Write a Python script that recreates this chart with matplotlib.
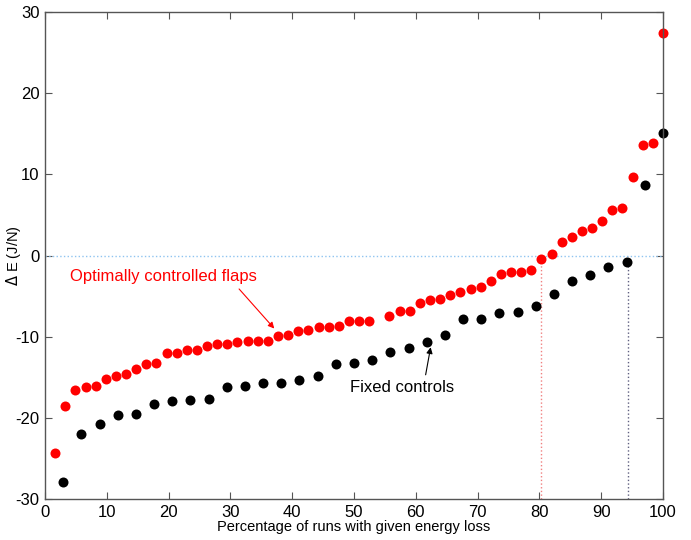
import matplotlib
matplotlib.use("Agg")
import matplotlib.pyplot as plt
import numpy as np

plt.rcParams["font.family"] = ["Liberation Sans", "DejaVu Sans"]
plt.rcParams["axes.unicode_minus"] = False

# red: optimally controlled flaps (61 runs, run 33 not shown)
n_red = 61
red_idx = [i for i in range(1, n_red + 1) if i != 33]
red_dE = [-24.3, -18.6, -16.6, -16.2, -16.1, -15.2, -14.9, -14.55, -13.96, -13.4,
          -13.3, -12.0, -12.0, -11.7, -11.66, -11.2, -10.85, -10.85, -10.6, -10.5,
          -10.55, -10.55, -9.9, -9.8, -9.36, -9.23, -8.8, -8.77, -8.68, -8.09,
          -8.04, -8.04,
          -7.5, -6.8, -6.8, -5.87, -5.45, -5.36, -4.9, -4.47, -4.13, -3.9,
          -3.1, -2.26, -2.04, -2.0, -1.79, -0.38, 0.17, 1.66, 2.3, 3.0,
          3.4, 4.26, 5.6, 5.9, 9.7, 13.66, 13.8, 27.4]

# black: fixed controls (34 runs)
n_blk = 34
blk_dE = [-27.96, -22.0, -20.7, -19.7, -19.5, -18.3, -17.9, -17.8, -17.7, -16.2,
          -16.1, -15.7, -15.66, -15.3, -14.8, -13.4, -13.3, -12.9, -11.87, -11.4,
          -10.6, -9.74, -7.87, -7.8, -7.1, -6.9, -6.2, -4.7, -3.2, -2.4,
          -1.4, -0.8, 8.64, 15.1]

red_x = np.array(red_idx) * 100.0 / n_red
blk_x = np.arange(1, n_blk + 1) * 100.0 / n_blk

red_cross = 80.3
blk_cross = 94.3

fig = plt.figure(figsize=(6.91, 5.4), dpi=100)
ax = fig.add_axes([0.0651, 0.0759, 0.8944, 0.9019])

ax.plot([0, 100], [0, 0], ':', color='#8fc4f0', linewidth=1)
ax.plot([red_cross, red_cross], [-30, 0], ':', color='#f08080', linewidth=1)
ax.plot([blk_cross, blk_cross], [-30, 0], ':', color='#606080', linewidth=1)

ax.plot(red_x, red_dE, 'o', color='red', markersize=7.2, markeredgewidth=0, clip_on=False)
ax.plot(blk_x, blk_dE, 'o', color='black', markersize=7.2, markeredgewidth=0, clip_on=False)

ax.annotate('Optimally controlled flaps', xy=(37.1, -9.0), xytext=(4.1, -2.6),
            color='red', fontsize=12, va='center',
            arrowprops=dict(arrowstyle='-|>', color='red', lw=0.8,
                            shrinkA=2, shrinkB=0, mutation_scale=9,
                            relpos=(0.88, 0.0)))
ax.annotate('Fixed controls', xy=(62.4, -11.3), xytext=(49.3, -16.3),
            color='black', fontsize=12, va='center',
            arrowprops=dict(arrowstyle='-|>', color='black', lw=0.8,
                            shrinkA=2, shrinkB=0, mutation_scale=9,
                            relpos=(0.72, 1.0)))

ax.set_xlim(0, 100)
ax.set_ylim(-30, 30)
ax.set_xticks(np.arange(0, 101, 10))
ax.set_yticks(np.arange(-30, 31, 10))
ax.tick_params(direction='in', top=True, right=True, length=5, width=0.8,
               color='#555555', labelsize=12, pad=4)
for s in ax.spines.values():
    s.set_color('#555555')
    s.set_linewidth(1)

ax.set_xlabel('Percentage of runs with given energy loss', fontsize=10.5, labelpad=0)
ax.set_ylabel('$\\Delta$ E (J/N)', fontsize=10.5)
ax.yaxis.set_label_coords(-0.036, 0.5)

fig.savefig('out.png', dpi=100)
